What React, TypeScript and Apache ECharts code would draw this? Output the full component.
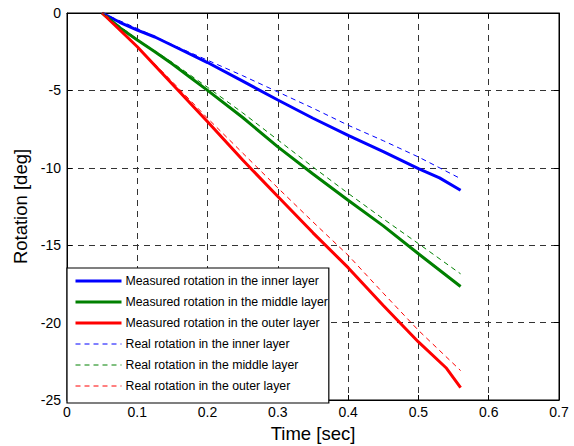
import React, { useEffect, useRef } from "react";
import * as echarts from "echarts";

const xTicks = [0, 0.1, 0.2, 0.3, 0.4, 0.5, 0.6, 0.7];
const yTicks = [0, -5, -10, -15, -20, -25];

const innerMeasuredT = [0.05, 0.075, 0.1, 0.125, 0.15, 0.2, 0.25, 0.3, 0.35, 0.4, 0.45, 0.5, 0.53, 0.56];
const innerMeasuredV = [0, -0.6, -1.1, -1.55, -2.1, -3.2, -4.4, -5.62, -6.8, -7.9, -8.95, -10.05, -10.65, -11.45];

const innerRealT = [0.05, 0.1, 0.15, 0.2, 0.25, 0.3, 0.35, 0.4, 0.45, 0.5, 0.56];
const innerRealV = [0, -1.0, -2.05, -3.05, -4.05, -5.1, -6.15, -7.25, -8.25, -9.3, -10.7];

const middleMeasuredT = [0.05, 0.075, 0.1, 0.125, 0.15, 0.175, 0.2, 0.25, 0.3, 0.35, 0.4, 0.45, 0.5, 0.56];
const middleMeasuredV = [0, -0.95, -1.75, -2.5, -3.3, -4.15, -5.0, -6.75, -8.65, -10.4, -12.1, -13.75, -15.55, -17.67];

const middleRealT = [0.05, 0.1, 0.15, 0.2, 0.25, 0.3, 0.35, 0.4, 0.45, 0.5, 0.56];
const middleRealV = [0, -1.7, -3.2, -4.8, -6.45, -8.2, -9.95, -11.65, -13.3, -14.9, -16.85];

const outerMeasuredT = [0.05, 0.1, 0.15, 0.2, 0.25, 0.3, 0.35, 0.4, 0.45, 0.5, 0.54, 0.56];
const outerMeasuredV = [0, -2.18, -4.6, -7.03, -9.5, -11.85, -14.2, -16.45, -18.9, -21.25, -22.95, -24.2];

const outerRealT = [0.05, 0.1, 0.15, 0.2, 0.25, 0.3, 0.35, 0.4, 0.45, 0.5, 0.56];
const outerRealV = [0, -2.15, -4.45, -6.8, -9.05, -11.3, -13.5, -15.65, -18.1, -20.5, -23.1];

const seriesNames = [
  "Measured rotation in the inner layer",
  "Measured rotation in the middle layer",
  "Measured rotation in the outer layer",
  "Real rotation in the inner layer",
  "Real rotation in the middle layer",
  "Real rotation in the outer layer",
];
const seriesColors = ["#0000ff", "#008000", "#ff0000", "#0000ff", "#008000", "#ff0000"];
const seriesDashed = [false, false, false, true, true, true];

const zip = (t: number[], v: number[]) => t.map((x, i) => [x, v[i]]);

const FONT = "'Liberation Sans', Arial, sans-serif";

export default function App() {
  const ref = useRef<HTMLDivElement>(null);
  useEffect(() => {
    if (!ref.current) return;
    const chart = echarts.init(ref.current, undefined, { renderer: "svg" });
    const lineStyleOf = (i: number) => ({
      color: seriesColors[i],
      width: seriesDashed[i] ? 1 : 3,
      type: seriesDashed[i] ? [5, 4] : "solid",
    });
    const mk = (i: number, data: number[][]) => ({
      name: seriesNames[i],
      type: "line",
      data,
      showSymbol: false,
      symbol: "none",
      xAxisIndex: 0,
      yAxisIndex: 0,
      lineStyle: lineStyleOf(i),
      itemStyle: { color: seriesColors[i] },
      z: seriesDashed[i] ? 3 : 2,
    });
    const splitStyle = { show: true, lineStyle: { color: "#333", type: [6, 5], width: 1 } };
    chart.setOption({
      animation: false,
      backgroundColor: "#fff",
      grid: {
        left: 67,
        right: 15,
        top: 13,
        bottom: 46,
        show: true,
        borderColor: "#000",
        borderWidth: 1,
        backgroundColor: "#fff",
        outerBoundsMode: "none",
        containLabel: false,
      },
      legend: {
        orient: "vertical",
        left: 67,
        top: 268,
        data: seriesNames.map((name, i) => ({
          name,
          itemStyle: { opacity: 0, borderWidth: 0 },
          lineStyle: lineStyleOf(i),
        })),
        backgroundColor: "#fff",
        borderColor: "#000",
        borderWidth: 1.2,
        borderRadius: 0,
        padding: [7, 1, 11, 7],
        itemWidth: 46,
        itemHeight: 14,
        itemGap: 9,
        itemStyle: { opacity: 0, borderWidth: 0 },
        textStyle: { fontFamily: FONT, fontSize: 12.3, color: "#000", padding: [0, 0, 0, -1] },
      },
      xAxis: [
        {
          type: "value",
          min: 0,
          max: 0.7,
          interval: 0.1,
          name: "Time [sec]",
          nameLocation: "middle",
          nameGap: 24,
          nameTextStyle: { fontFamily: FONT, fontSize: 18.5, color: "#000" },
          axisLine: { show: true, onZero: false, lineStyle: { color: "#000" } },
          axisTick: { show: true, inside: true, length: 5, lineStyle: { color: "#000" } },
          axisLabel: {
            fontFamily: FONT,
            fontSize: 14,
            color: "#000",
            margin: 5,
            formatter: (v: number) => {
              const r = Math.round(v * 10) / 10;
              return xTicks.includes(r) ? String(r) : "";
            },
          },
          splitLine: splitStyle,
        },
        {
          type: "value",
          position: "top",
          min: 0,
          max: 0.7,
          interval: 0.1,
          axisLine: { show: true, onZero: false, lineStyle: { color: "#000" } },
          axisTick: { show: true, inside: true, length: 5, lineStyle: { color: "#000" } },
          axisLabel: { show: false },
          splitLine: { show: false },
        },
      ],
      yAxis: [
        {
          type: "value",
          min: -25,
          max: 0,
          interval: 5,
          name: "Rotation [deg]",
          nameLocation: "middle",
          nameGap: 35,
          nameTextStyle: { fontFamily: FONT, fontSize: 18.5, color: "#000" },
          axisLine: { show: true, onZero: false, lineStyle: { color: "#000" } },
          axisTick: { show: true, inside: true, length: 5, lineStyle: { color: "#000" } },
          axisLabel: {
            fontFamily: FONT,
            fontSize: 14,
            color: "#000",
            margin: 6,
            formatter: (v: number) => (yTicks.includes(v) ? String(v) : ""),
          },
          splitLine: splitStyle,
        },
        {
          type: "value",
          position: "right",
          min: -25,
          max: 0,
          interval: 5,
          axisLine: { show: true, onZero: false, lineStyle: { color: "#000" } },
          axisTick: { show: true, inside: true, length: 5, lineStyle: { color: "#000" } },
          axisLabel: { show: false },
          splitLine: { show: false },
        },
      ],
      series: [
        mk(0, zip(innerMeasuredT, innerMeasuredV)),
        mk(1, zip(middleMeasuredT, middleMeasuredV)),
        mk(2, zip(outerMeasuredT, outerMeasuredV)),
        mk(3, zip(innerRealT, innerRealV)),
        mk(4, zip(middleRealT, middleRealV)),
        mk(5, zip(outerRealT, outerRealV)),
      ],
    });
    return () => chart.dispose();
  }, []);
  return <div ref={ref} style={{ width: 574, height: 446, position: "absolute", left: 0, top: 0 }} />;
}
